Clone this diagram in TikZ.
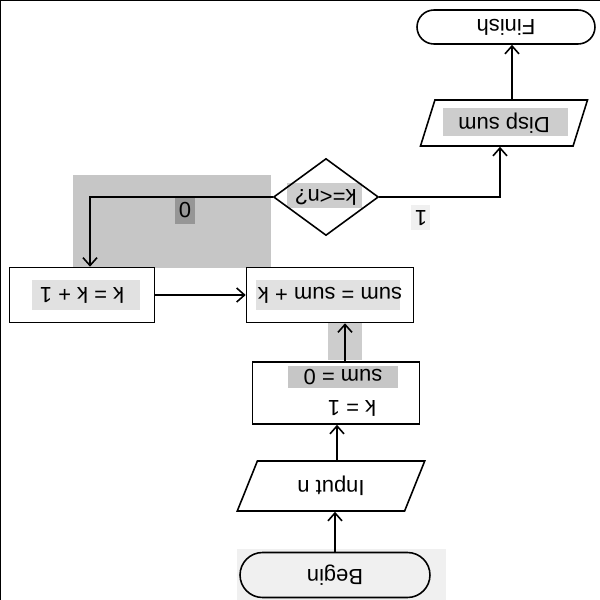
\documentclass[tikz,border=0pt]{standalone}
\usepackage{fontspec}
\setmainfont{Liberation Sans}
\usetikzlibrary{shapes.geometric,shapes.misc,arrows.meta}
\definecolor{greyA}{RGB}{198,198,198}
\definecolor{greyDark}{RGB}{150,150,150}
\definecolor{greyMid}{RGB}{205,205,205}
\definecolor{greyLight}{RGB}{225,225,225}
\definecolor{greyPale}{RGB}{240,240,240}
\newcommand{\upsd}[1]{\rotatebox{180}{#1}}

\begin{document}
\begin{tikzpicture}[x=0.02cm,y=-0.02cm,
  every node/.style={font=\fontsize{12.5}{14}\selectfont},
  proc/.style={draw, line width=0.9pt, minimum height=1.1cm, inner sep=0pt},
  io/.style={draw, line width=0.9pt, trapezium, trapezium left angle=65,
    trapezium right angle=115, trapezium stretches=true, inner sep=0pt},
  term/.style={draw, line width=0.9pt, rounded rectangle, inner sep=0pt},
  test/.style={draw, line width=0.9pt, diamond, inner sep=0pt,
    minimum width=2.1cm, minimum height=1.5cm},
  flow/.style={line width=0.9pt, -{Straight Barb[length=4.5pt,width=8pt]}}]
\useasboundingbox (0,0) rectangle (600,600);
\draw[line width=1.5pt] (0,600) -- (0,0) -- (600,0);

% highlights
\fill[greyA] (73,175) rectangle (271,268);
\fill[greyDark] (175,197) rectangle (195,224);
\fill[greyMid] (443,108) rectangle (568,136);
\fill[greyMid] (287,183) rectangle (362,208);
\fill[greyPale] (411,205) rectangle (430,230);
\fill[greyLight] (32,280) rectangle (140,310);
\fill[greyLight] (256,280) rectangle (400,310);
\fill[greyMid] (328,323) rectangle (362,360);
\fill[greyA] (288,366) rectangle (398,388);
\fill[greyPale] (237,549) rectangle (446,600);

% nodes
\node[term, minimum width=3.56cm, minimum height=0.68cm] (finish) at (506,27) {\upsd{Finish}};
\node[io, minimum width=3.36cm, minimum height=0.92cm] (disp) at (504,123) {\upsd{Disp sum}};
\node[test] (cond) at (326,197) {\upsd{k=<n?}};
\node[proc, minimum width=2.9cm] (inc) at (82,295) {\upsd{k = k + 1}};
\node[proc, minimum width=3.34cm] (acc) at (330,295) {\upsd{sum = sum + k}};
\node[proc, minimum width=3.34cm, minimum height=1.24cm] (init) at (336,393) {};
\node (initsum) at (343,377) {\upsd{sum = 0}};
\node (initk) at (352,408) {\upsd{k = 1}};
\node[io, minimum width=3.76cm, minimum height=1.0cm] (input) at (331,486) {\upsd{Input n}};
\node[term, minimum width=3.8cm, minimum height=0.9cm] (begin) at (335,575) {\upsd{Begin}};
\node (no) at (185,210) {\upsd{0}};
\node (yes) at (421,218) {\upsd{1}};

% connectors
\draw[flow] (begin.north) -- (begin.north |- input.south);
\draw[flow] ([xshift=0.12cm]input.north) -- ([xshift=0.12cm]input.north |- init.south);
\draw[flow] ([xshift=0.18cm]init.north) -- ([xshift=0.18cm]init.north |- acc.south);
\draw[flow] (inc.east) -- (acc.west);
\draw[flow] (cond.west) -| ([xshift=0.16cm]inc.north);
\draw[flow] (cond.east) -| ([xshift=-0.08cm]disp.south);
\draw[flow] ([xshift=0.16cm]disp.north) -- ([xshift=0.16cm]disp.north |- finish.south);
\end{tikzpicture}
\end{document}
